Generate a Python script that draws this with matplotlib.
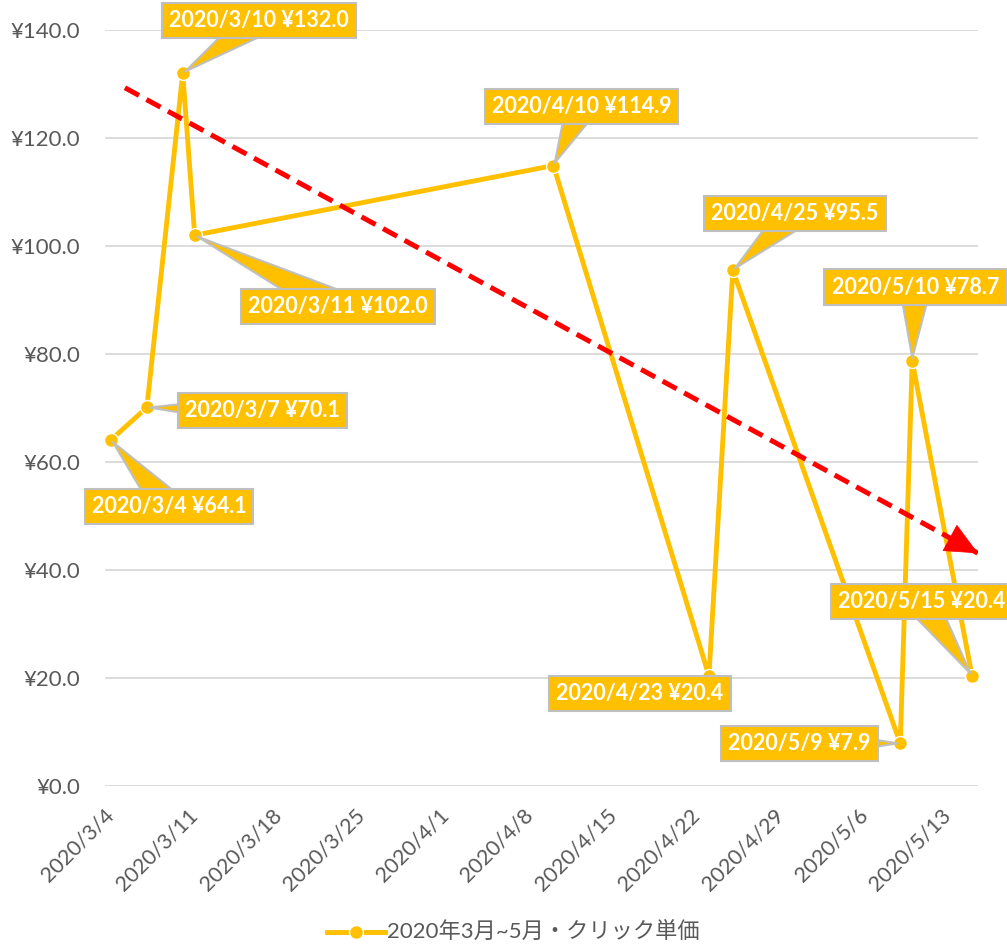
import matplotlib
matplotlib.use("Agg")
import matplotlib.pyplot as plt
import matplotlib.dates as mdates
import pandas as pd

plt.rcParams["font.family"] = ["Lato", "Noto Sans CJK JP", "DejaVu Sans"]

# data
dates = ["2020-03-04", "2020-03-07", "2020-03-10", "2020-03-11", "2020-04-10",
         "2020-04-23", "2020-04-25", "2020-05-09", "2020-05-10", "2020-05-15"]
cpc = [64.1, 70.1, 132.0, 102.0, 114.9, 20.4, 95.5, 7.9, 78.7, 20.4]
series_name = "2020年3月~5月・クリック単価"

# hand-drawn trend arrow (start / end)
trend_dates = ["2020-03-05 04:00", "2020-05-15 12:00"]
trend_vals = [129.3, 43.1]

# callout offsets in pixels (label centre relative to point)
label_offsets = [(58, -67), (116, -3), (76, 53), (143, -71), (28, 59),
                 (-69, -18), (62, 57), (-101, 0), (3, 74), (-50, 74)]

YELLOW = "#FFC000"
GRID = "#D9D9D9"
TEXT = "#595959"

x = pd.to_datetime(dates)
tx = mdates.date2num(pd.to_datetime(trend_dates))

fig = plt.figure(figsize=(10.07, 9.46), dpi=100)
ax = fig.add_axes([105 / 1007, (946 - 786) / 946, 873 / 1007, 756 / 946])

ax.plot(x, cpc, color=YELLOW, lw=3.5, marker="o", ms=10,
        mfc=YELLOW, mec="white", mew=1.0, zorder=3, label=series_name)

# red dashed trend line with a solid head at the end
ax.plot(tx, trend_vals, color="#FF0000", lw=3.6, dashes=(3.2, 1.7),
        dash_capstyle="butt", zorder=4)
f = 0.96
hx = tx[0] + f * (tx[1] - tx[0])
hy = trend_vals[0] + f * (trend_vals[1] - trend_vals[0])
ax.annotate("", xy=(tx[1], trend_vals[1]), xytext=(hx, hy),
            arrowprops=dict(arrowstyle="-|>,head_length=1.4,head_width=0.65",
                            color="#FF0000", lw=0.5, shrinkA=0, shrinkB=0,
                            mutation_scale=16),
            zorder=4)

for d, v, (dx, dy) in zip(x, cpc, label_offsets):
    txt = f"{d.year}/{d.month}/{d.day} ¥{v:.1f}"
    ax.annotate(txt, xy=(d, v), xytext=(dx, dy), textcoords="offset pixels",
                ha="center", va="center", color="white", fontsize=15.5,
                fontweight="bold", zorder=5, annotation_clip=False,
                bbox=dict(boxstyle="square,pad=0.33", fc=YELLOW, ec="#BFBFBF", lw=1.5),
                arrowprops=dict(arrowstyle="wedge,tail_width=0.75,shrink_factor=0.5",
                                fc=YELLOW, ec="#BFBFBF", lw=1.5,
                                patchA=None, shrinkA=0, shrinkB=2,
                                mutation_scale=30))

ax.set_ylim(0, 140)
ax.set_yticks(range(0, 141, 20))
ax.yaxis.set_major_formatter(plt.FuncFormatter(lambda v, p: f"¥{v:.1f}"))
ax.set_xlim(mdates.date2num(pd.Timestamp("2020-03-04")) - 0.5,
            mdates.date2num(pd.Timestamp("2020-05-15")) + 0.5)
ticks = pd.date_range("2020-03-04", "2020-05-13", freq="7D")
ax.set_xticks(ticks)
ax.set_xticklabels([f"{t.year}/{t.month}/{t.day}" for t in ticks],
                   rotation=45, ha="right", va="center", rotation_mode="anchor")

ax.grid(axis="y", color=GRID, lw=1.3)
ax.set_axisbelow(True)
for s in ax.spines.values():
    s.set_visible(False)
ax.tick_params(length=0, labelsize=15.5, colors=TEXT)
ax.tick_params(axis="x", pad=19)
ax.tick_params(axis="y", labelsize=16, pad=18)

fig.legend(loc="center", bbox_to_anchor=(0.51, 0.014), frameon=False,
           fontsize=16, labelcolor=TEXT, handlelength=2.6, handletextpad=0.1,
           borderpad=0)

fig.savefig("out.png", dpi=100)
